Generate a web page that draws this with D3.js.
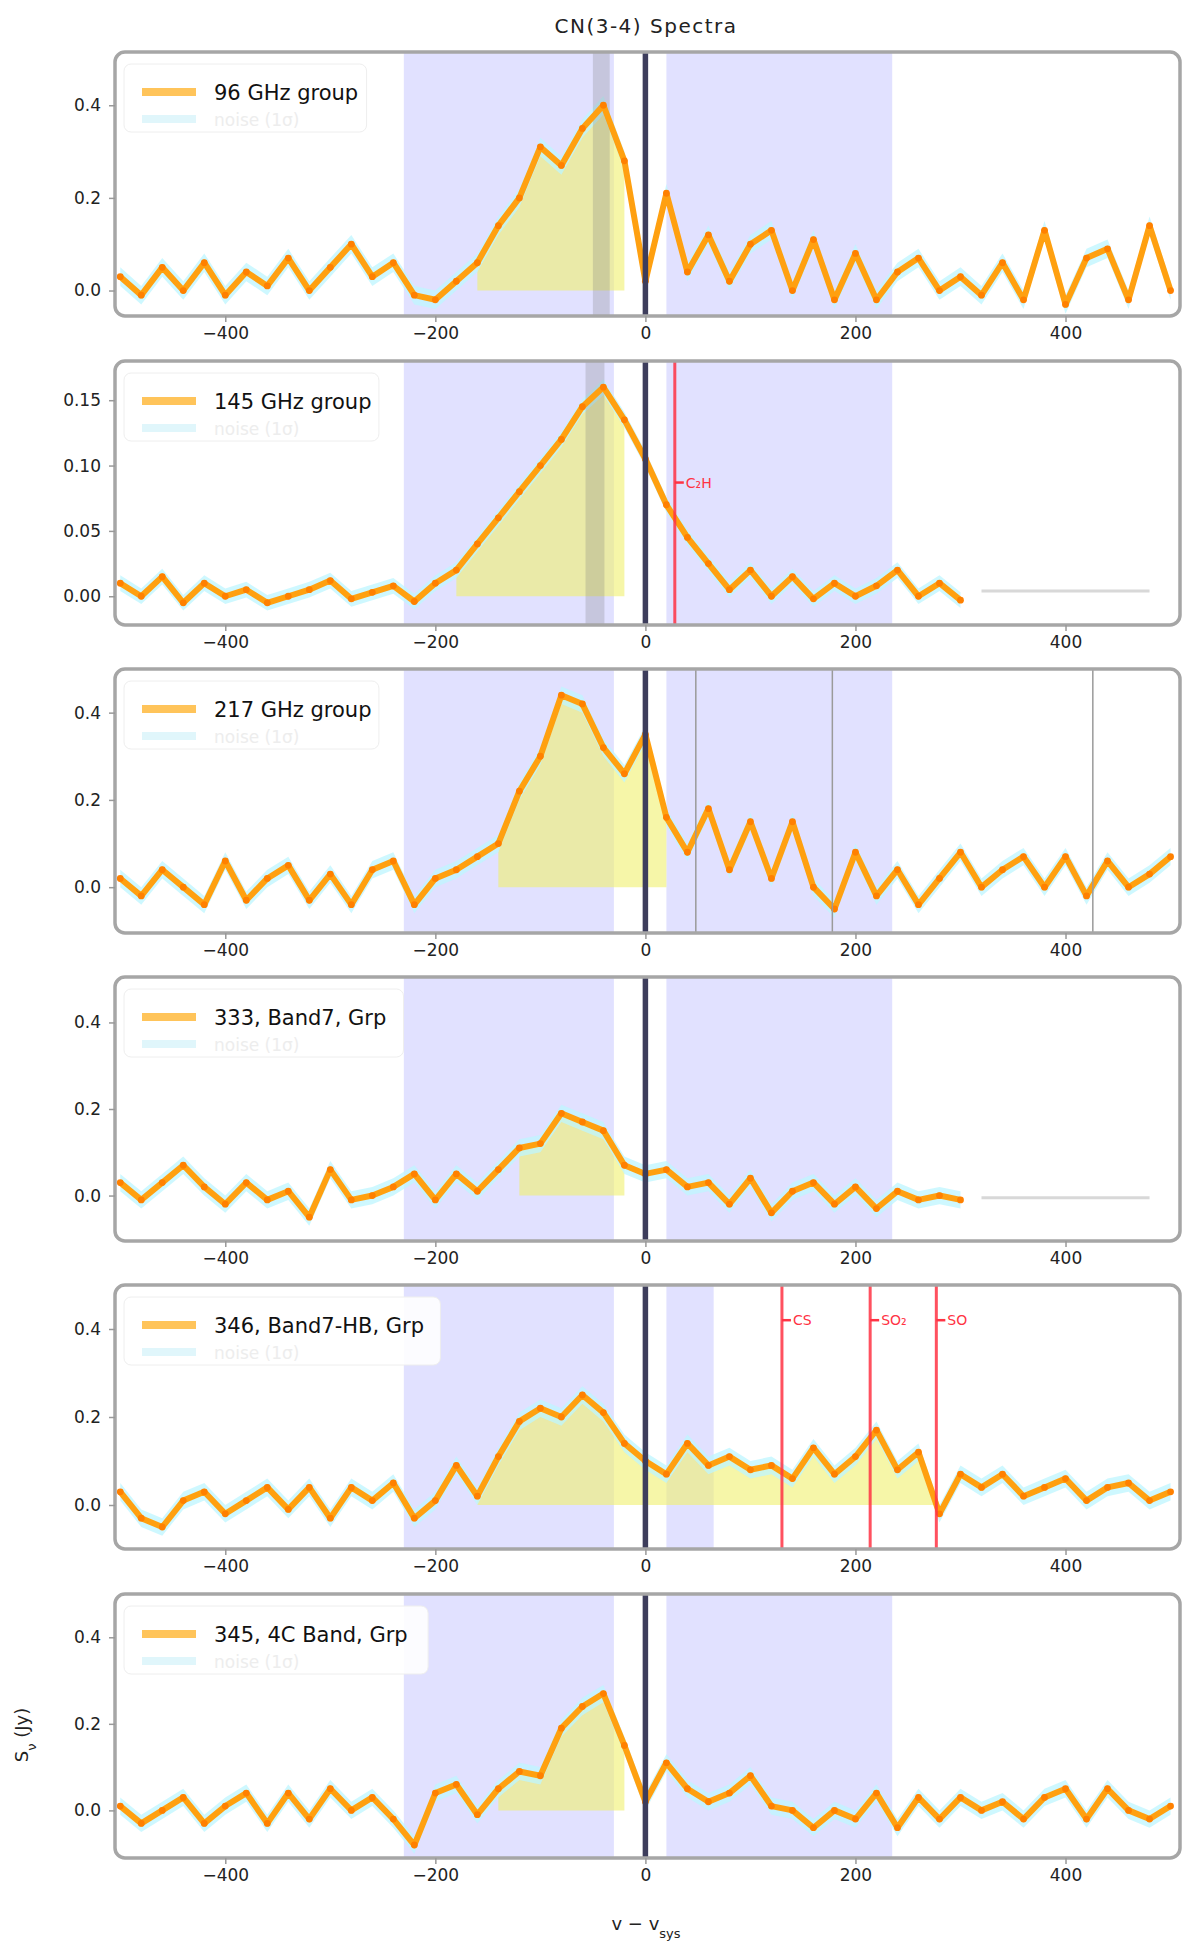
<!DOCTYPE html>
<html><head><meta charset="utf-8">
<script src="https://cdn.jsdelivr.net/npm/d3@7"></script>
<style>body{margin:0;background:#fff;} svg{display:block;font-family:"DejaVu Sans",sans-serif;}</style>
</head><body><svg id="c" width="1200" height="1956"></svg>
<script>
// ---------------- data ----------------
const velocity = [-500,-480,-460,-440,-420,-400,-380,-360,-340,-320,-300,-280,-260,-240,-220,-200,-180,-160,-140,-120,-100,-80,-60,-40,-20,0,20,40,60,80,100,120,140,160,180,200,220,240,260,280,300,320,340,360,380,400,420,440,460,480,500];
const tailVelocity = [320, 480];

const panelNames = ["96 GHz group", "145 GHz group", "217 GHz group", "333, Band7, Grp", "346, Band7-HB, Grp", "345, 4C Band, Grp"];
const noiseLabel = "noise (1σ)";

const flux96  = [0.03,-0.01,0.05,0.0,0.06,-0.01,0.04,0.01,0.07,0.0,0.05,0.10,0.03,0.06,-0.01,-0.02,0.02,0.06,0.14,0.20,0.31,0.27,0.35,0.40,0.28,0.02,0.21,0.04,0.12,0.02,0.10,0.13,0.0,0.11,-0.02,0.08,-0.02,0.04,0.07,0.0,0.03,-0.01,0.06,-0.02,0.13,-0.03,0.07,0.09,-0.02,0.14,0.0];
const flux145 = [0.010,0.000,0.015,-0.005,0.010,0.000,0.005,-0.005,0.000,0.005,0.012,-0.002,0.003,0.008,-0.004,0.010,0.020,0.040,0.060,0.080,0.100,0.120,0.145,0.160,0.135,0.105,0.070,0.045,0.025,0.005,0.020,0.000,0.015,-0.002,0.010,0.000,0.008,0.020,0.000,0.010,-0.003];
const flux217 = [0.02,-0.02,0.04,0.0,-0.04,0.06,-0.03,0.02,0.05,-0.03,0.03,-0.04,0.04,0.06,-0.04,0.02,0.04,0.07,0.10,0.22,0.30,0.44,0.42,0.32,0.26,0.35,0.16,0.08,0.18,0.04,0.15,0.02,0.15,0.0,-0.05,0.08,-0.02,0.04,-0.04,0.02,0.08,0.0,0.04,0.07,0.0,0.07,-0.02,0.06,0.0,0.03,0.07];
const flux333 = [0.03,-0.01,0.03,0.07,0.02,-0.02,0.03,-0.01,0.01,-0.05,0.06,-0.01,0.0,0.02,0.05,-0.01,0.05,0.01,0.06,0.11,0.12,0.19,0.17,0.15,0.07,0.05,0.06,0.02,0.03,-0.02,0.04,-0.04,0.01,0.03,-0.02,0.02,-0.03,0.01,-0.01,0.0,-0.01];
const flux346 = [0.03,-0.03,-0.05,0.01,0.03,-0.02,0.01,0.04,-0.01,0.04,-0.03,0.04,0.01,0.05,-0.03,0.01,0.09,0.02,0.11,0.19,0.22,0.20,0.25,0.21,0.14,0.10,0.07,0.14,0.09,0.11,0.08,0.09,0.06,0.13,0.07,0.11,0.17,0.08,0.12,-0.02,0.07,0.04,0.07,0.02,0.04,0.06,0.01,0.04,0.05,0.01,0.03];
const flux345 = [0.01,-0.03,0.0,0.03,-0.03,0.01,0.04,-0.03,0.04,-0.02,0.05,0.0,0.03,-0.02,-0.08,0.04,0.06,-0.01,0.05,0.09,0.08,0.19,0.24,0.27,0.15,0.02,0.11,0.05,0.02,0.04,0.08,0.01,0.0,-0.04,0.0,-0.02,0.04,-0.04,0.03,-0.02,0.03,0.0,0.02,-0.02,0.03,0.05,-0.02,0.05,0.0,-0.02,0.01];
const tailFlux145 = [0.004, 0.004];
const tailFlux333 = [-0.005, -0.005];

const noise = [0.02, 0.006, 0.02, 0.02, 0.02, 0.02];

const xTicks = [-400, -200, 0, 200, 400];
const yTicksMain = [0.0, 0.2, 0.4];
const yTicks145 = [0.00, 0.05, 0.10, 0.15];
const yLimits = [[-0.055, 0.515], [-0.022, 0.18], [-0.105, 0.50], [-0.105, 0.505], [-0.10, 0.50], [-0.11, 0.50]];

const lineRanges = [[-160, -5], [-195, -5], [-150, 20], [-130, -10], [-160, 280], [-140, -5]];
const blueSpans = [
  [[-230,-30],[20,235]], [[-230,-30],[20,235]], [[-230,-30],[20,235]],
  [[-230,-30],[20,235]], [[-230,-30],[20,65]], [[-230,-30],[20,235]]
];
const grayBands = [[[-50,-34]], [[-57,-39]], [], [], [], []];
const grayLines = [[], [], [48, 178, 426], [], [], []];
const redLines = [[], [28], [], [], [130, 214, 277], []];
const redLabels = [[], ["C₂H"], [], [], ["CS", "SO₂", "SO"], []];
const redLabelY = [0, 0.087, 0, 0, 0.42, 0];

const titleText = "CN(3-4) Spectra";
const xLabel = "v − v";
const xLabelSub = "sys";
const yLabel = "S";
const yLabelSub = "ν";
const yLabelUnit = " (Jy)";

// ---------------- drawing ----------------
const series = [flux96, flux145, flux217, flux333, flux346, flux345];
const tails = [null, tailFlux145, null, tailFlux333, null, null];

const svg = d3.select("#c");
const L = 115, R = 1180, H = 264;
const tops = [52, 361, 669, 977, 1285, 1594];
const x = d3.scaleLinear().domain([-505, 509]).range([L, R]);

svg.append("text").attr("x", 646).attr("y", 33).attr("text-anchor", "middle")
  .attr("font-size", 20).attr("letter-spacing", 1.5).attr("fill", "#222").text(titleText);

series.forEach((vals, i) => {
  const top = tops[i], bot = top + H;
  const y = d3.scaleLinear().domain(yLimits[i]).range([bot, top]);
  const g = svg.append("g");
  const cid = "clip" + i;
  svg.append("clipPath").attr("id", cid).append("rect")
    .attr("x", L).attr("y", top).attr("width", R - L).attr("height", H);
  const p = g.append("g").attr("clip-path", `url(#${cid})`);
  const pts = vals.map((v, k) => ({v: velocity[k], f: v}));

  blueSpans[i].forEach(s => p.append("rect").attr("x", x(s[0])).attr("width", x(s[1]) - x(s[0]))
    .attr("y", top).attr("height", H).attr("fill", "rgba(170,170,255,0.35)"));

  // yellow fill of line region
  const rng = lineRanges[i];
  const inR = pts.filter(d => d.v >= rng[0] && d.v <= rng[1]);
  p.append("path").datum(inR)
    .attr("d", d3.area().x(d => x(d.v)).y0(y(0)).y1(d => y(Math.max(d.f, 0))))
    .attr("fill", "rgba(240,240,110,0.6)");

  // noise band
  const n = noise[i];
  p.append("path").datum(pts)
    .attr("d", d3.area().x(d => x(d.v)).y0(d => y(d.f - n)).y1(d => y(d.f + n)))
    .attr("fill", "rgba(190,245,255,0.75)");

  grayBands[i].forEach(s => p.append("rect").attr("x", x(s[0])).attr("width", x(s[1]) - x(s[0]))
    .attr("y", top).attr("height", H).attr("fill", "rgba(120,120,120,0.25)"));

  if (tails[i]) {
    p.append("line").attr("x1", x(tailVelocity[0])).attr("x2", x(tailVelocity[1]))
      .attr("y1", y(tails[i][0])).attr("y2", y(tails[i][1]))
      .attr("stroke", "#d8d8d8").attr("stroke-width", 3);
  }

  p.append("path").datum(pts)
    .attr("d", d3.line().x(d => x(d.v)).y(d => y(d.f)))
    .attr("fill", "none").attr("stroke", "#ffa010").attr("stroke-width", 6)
    .attr("stroke-linejoin", "round");
  p.selectAll("circle.m").data(pts).enter().append("circle")
    .attr("cx", d => x(d.v)).attr("cy", d => y(d.f)).attr("r", 3.4).attr("fill", "#ff8000");

  // systemic velocity
  p.append("line").attr("x1", x(0)).attr("x2", x(0)).attr("y1", top).attr("y2", bot)
    .attr("stroke", "#3d3d5c").attr("stroke-width", 5.5);

  grayLines[i].forEach(v => p.append("line").attr("x1", x(v)).attr("x2", x(v)).attr("y1", top).attr("y2", bot)
    .attr("stroke", "#9a9a9a").attr("stroke-width", 1.5));

  redLines[i].forEach((v, k) => {
    p.append("line").attr("x1", x(v)).attr("x2", x(v)).attr("y1", top).attr("y2", bot)
      .attr("stroke", "#ff3344").attr("stroke-width", 3).attr("opacity", 0.85);
    const ly = y(redLabelY[i]);
    p.append("line").attr("x1", x(v)).attr("x2", x(v) + 9).attr("y1", ly).attr("y2", ly)
      .attr("stroke", "#ff3344").attr("stroke-width", 2.5);
    p.append("text").attr("x", x(v) + 11).attr("y", ly + 5).attr("font-size", 14)
      .attr("fill", "#ff3344").text(redLabels[i][k]);
  });

  // frame
  g.append("rect").attr("x", L).attr("y", top).attr("width", R - L).attr("height", H)
    .attr("rx", 10).attr("fill", "none").attr("stroke", "#a6a6a6").attr("stroke-width", 3.5);

  // legend
  const lg = g.append("g").attr("transform", `translate(${L + 9},${top + 12})`);
  const tw = panelNames[i].length * 12.3 + 95;
  lg.append("rect").attr("width", tw).attr("height", 68).attr("rx", 7)
    .attr("fill", "rgba(255,255,255,0.9)").attr("stroke", "#eeeeee");
  lg.append("line").attr("x1", 18).attr("x2", 72).attr("y1", 28).attr("y2", 28)
    .attr("stroke", "#ffc45a").attr("stroke-width", 8);
  lg.append("text").attr("x", 90).attr("y", 36).attr("font-size", 21).attr("fill", "#111").text(panelNames[i]);
  lg.append("line").attr("x1", 18).attr("x2", 72).attr("y1", 55).attr("y2", 55)
    .attr("stroke", "#e0f6fb").attr("stroke-width", 8);
  lg.append("text").attr("x", 90).attr("y", 62).attr("font-size", 17).attr("fill", "#ededed").text(noiseLabel);

  // axes
  const xa = g.append("g").attr("transform", `translate(0,${bot})`)
    .call(d3.axisBottom(x).tickValues(xTicks).tickSize(6).tickPadding(5));
  const yt = i === 1 ? yTicks145 : yTicksMain;
  const ya = g.append("g").attr("transform", `translate(${L},0)`)
    .call(d3.axisLeft(y).tickValues(yt).tickSize(6).tickPadding(8)
      .tickFormat(d3.format(i === 1 ? ".2f" : ".1f")));
  [xa, ya].forEach(a => {
    a.select(".domain").remove();
    a.selectAll("line").attr("stroke", "#999").attr("stroke-width", 1.5);
    a.selectAll("text").attr("font-size", 17).attr("fill", "#222")
      .attr("font-family", '"DejaVu Sans",sans-serif');
  });
});

// axis labels
const xl = svg.append("text").attr("x", 646).attr("y", 1930).attr("text-anchor", "middle")
  .attr("font-size", 18).attr("fill", "#222");
xl.append("tspan").text(xLabel);
xl.append("tspan").attr("baseline-shift", "sub").attr("font-size", 13).text(xLabelSub);
const yl = svg.append("text").attr("transform", "translate(28,1735) rotate(-90)")
  .attr("text-anchor", "middle").attr("font-size", 18).attr("fill", "#222");
yl.append("tspan").text(yLabel);
yl.append("tspan").attr("baseline-shift", "sub").attr("font-size", 13).text(yLabelSub);
yl.append("tspan").text(yLabelUnit);
</script></body></html>
